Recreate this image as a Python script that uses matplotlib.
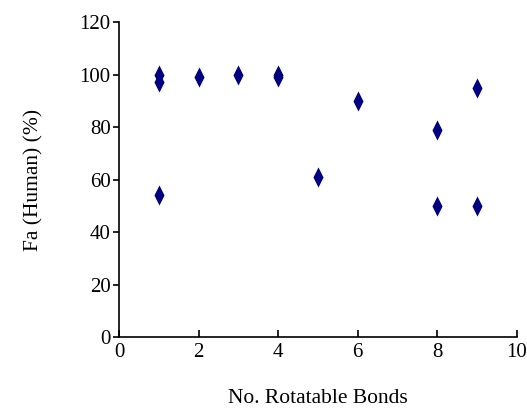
import matplotlib
matplotlib.use("Agg")
import matplotlib.pyplot as plt

# rotatable bonds vs human fraction absorbed
rot_bonds = [1, 1, 1, 2, 3, 4, 4, 5, 6, 8, 8, 9, 9]
fa_human = [100, 97, 54, 99, 100, 100, 99, 61, 90, 79, 50, 95, 50]

plt.rcParams['font.family'] = ['Liberation Serif', 'DejaVu Serif']

# narrow diamond, half as wide as tall
diamond = [(0, 1), (0.5, 0), (0, -1), (-0.5, 0), (0, 1)]

fig = plt.figure(figsize=(5.27, 4.09), dpi=100)
ax = fig.add_axes([0.2258, 0.176, 0.7552, 0.770])

ax.plot(rot_bonds, fa_human, linestyle='none', marker=diamond, markersize=14.5,
        color='#000080', markeredgewidth=0)

ax.set_xlim(0, 10)
ax.set_ylim(0, 120)
ax.set_xticks(range(0, 11, 2))
ax.set_yticks(range(0, 121, 20))
ax.spines['top'].set_visible(False)
ax.spines['right'].set_visible(False)
for s in ['left', 'bottom']:
    ax.spines[s].set_linewidth(1.2)
ax.tick_params(axis='y', direction='out', length=4, width=1.2, labelsize=15, pad=2)
ax.tick_params(axis='x', direction='in', length=5, width=1.2, labelsize=15, pad=4)

ax.set_xlabel('No. Rotatable Bonds', fontsize=15.5, labelpad=20)
ax.set_ylabel('Fa (Human) (%)', fontsize=15.5, labelpad=26)

fig.savefig('out.png', dpi=100)
